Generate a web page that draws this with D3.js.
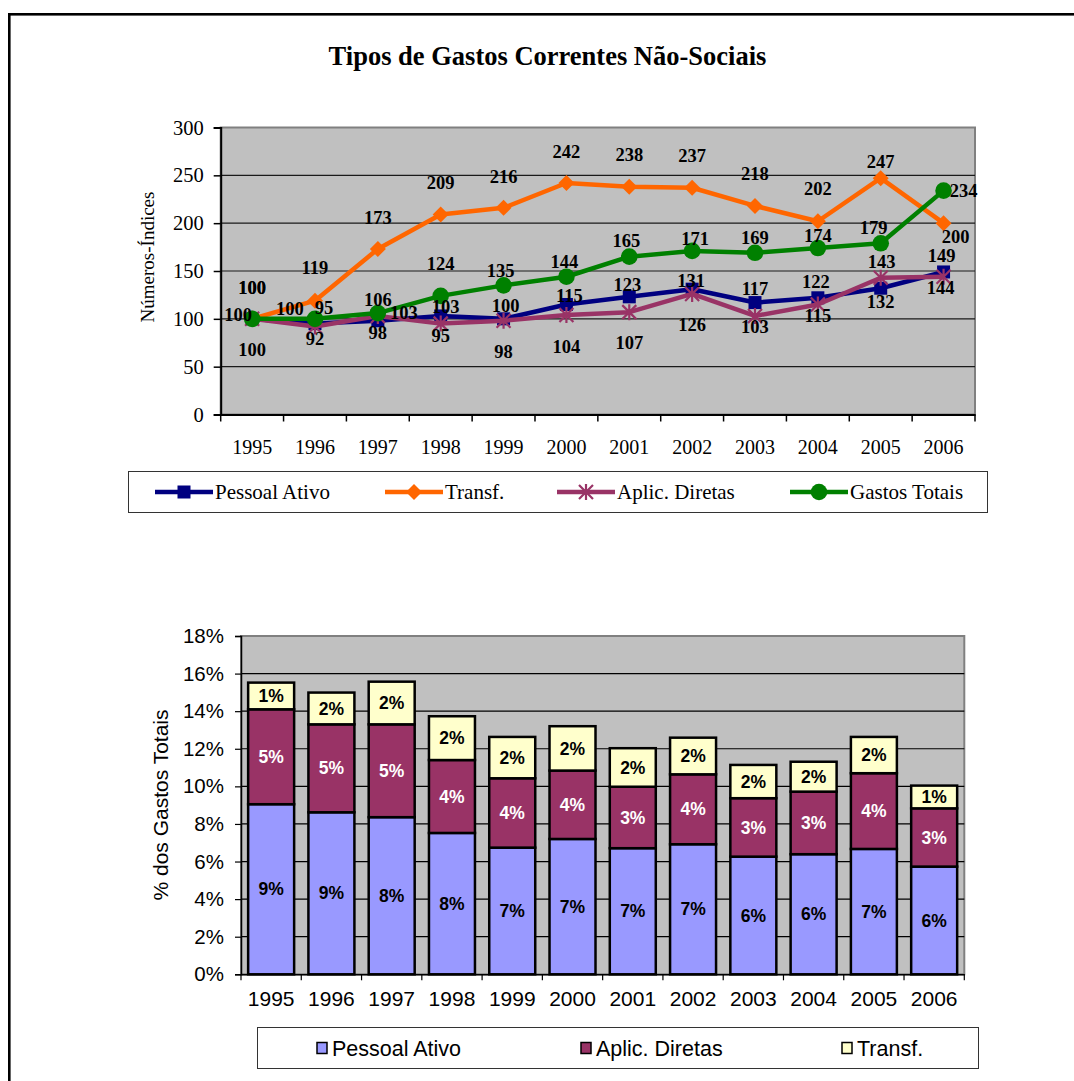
<!DOCTYPE html>
<html>
<head>
<meta charset="utf-8">
<script src="https://cdn.jsdelivr.net/npm/d3@7"></script>
<style>
  html, body { margin: 0; padding: 0; background: #fff; }
  svg { display: block; }
</style>
</head>
<body>
<svg id="chart" width="1074" height="1081"></svg>
<script>
// ---- data ----
const years = ["1995","1996","1997","1998","1999","2000","2001","2002","2003","2004","2005","2006"];

// index numbers (1995 = 100)
const pessoalIdx = [100, 95, 98, 103, 100, 115, 123, 131, 117, 122, 132, 149];
const transfIdx  = [100, 119, 173, 209, 216, 242, 238, 237, 218, 202, 247, 200];
const aplicIdx   = [100, 92, 103, 95, 98, 104, 107, 126, 103, 115, 143, 144];
const totalIdx   = [100, 100, 106, 124, 135, 144, 165, 171, 169, 174, 179, 234];
const indexTicks = [0, 50, 100, 150, 200, 250, 300];

// shares of total spending
const pessoalShare = [0.0905, 0.0862, 0.0836, 0.0752, 0.0674, 0.0720, 0.0671, 0.0692, 0.0626, 0.0639, 0.0667, 0.0573];
const aplicShare   = [0.0505, 0.0468, 0.0494, 0.0388, 0.0369, 0.0364, 0.0327, 0.0372, 0.0311, 0.0333, 0.0403, 0.0310];
const transfShare  = [0.0142, 0.0169, 0.0227, 0.0233, 0.0220, 0.0236, 0.0205, 0.0195, 0.0177, 0.0159, 0.0193, 0.0121];
const shareTicks = [0, 0.02, 0.04, 0.06, 0.08, 0.10, 0.12, 0.14, 0.16, 0.18];

// ---- label placement for the line chart (offset from each point: [dx, dy]) ----
const labelOffsets = {
  pessoal: [[0,-31],[9,-16],[0,12],[5,-9],[2,-13],[3,-9],[-2,-12],[-1,-9],[0,-14],[-2,-16],[0,13.5],[-2,-16]],
  transf:  [[0,-31],[0,-33],[0,-31],[0,-32],[0,-31],[0,-31],[0,-32],[0,-32],[0,-32],[0,-33],[0,-16.5],[12,13.5]],
  aplic:   [[0,31],[0,12],[26,-3],[0,11.5],[0,31],[0,31.7],[0,30.6],[0,31],[0,11],[0,11],[1,-16],[-3,11]],
  total:   [[-14,-4],[-25,-10],[0,-14],[0,-32],[-3,-15],[-2,-15],[-3,-16.6],[3,-12.6],[0,-15.5],[0,-13],[-7,-16],[20,0]]
};

const svg = d3.select("#chart");
const serif = "'Liberation Serif','Times New Roman',serif";
const sans = "'Liberation Sans',Arial,sans-serif";

// page frame
svg.append("rect")
  .attr("x", 9.3).attr("y", 14.3).attr("width", 1200).attr("height", 1200)
  .attr("fill", "none").attr("stroke", "#000").attr("stroke-width", 2.6);

// ================= line chart =================
const L = { left: 220.7, right: 975, top: 127.5, bottom: 414.5 };
const xL = d3.scaleBand().domain(years).range([L.left, L.right]).padding(0);
const yL = d3.scaleLinear().domain([0, 300]).range([L.bottom, L.top]);
const cx = d => xL(d) + xL.bandwidth() / 2;

svg.append("text")
  .attr("x", 547.5).attr("y", 65)
  .attr("text-anchor", "middle")
  .attr("font-family", serif).attr("font-weight", "bold").attr("font-size", 26.5)
  .text("Tipos de Gastos Correntes Não-Sociais");

const gL = svg.append("g");
gL.append("rect")
  .attr("x", L.left).attr("y", L.top)
  .attr("width", L.right - L.left).attr("height", L.bottom - L.top)
  .attr("fill", "#c0c0c0").attr("stroke", "#808080").attr("stroke-width", 2);

gL.selectAll("line.grid").data(indexTicks.filter(v => v > 0 && v < 300)).join("line")
  .attr("class", "grid")
  .attr("x1", L.left).attr("x2", L.right)
  .attr("y1", d => yL(d)).attr("y2", d => yL(d))
  .attr("stroke", "#1a1a1a").attr("stroke-width", 1.2);

// y axis
const yAxisL = gL.append("g").attr("transform", `translate(${L.left},0)`)
  .call(d3.axisLeft(yL).tickValues(indexTicks).tickSize(7).tickPadding(10));
yAxisL.select(".domain").attr("stroke", "#000").attr("stroke-width", 2);
yAxisL.selectAll(".tick line").attr("stroke", "#000").attr("stroke-width", 1.5);
yAxisL.selectAll(".tick text").attr("font-family", serif).attr("font-size", 20.5).attr("fill", "#000");

// x axis: labels at category centres, ticks at category boundaries
const xAxisL = gL.append("g").attr("transform", `translate(0,${L.bottom})`)
  .call(d3.axisBottom(xL).tickSize(0).tickPadding(25));
xAxisL.select(".domain").attr("stroke", "#000").attr("stroke-width", 2);
xAxisL.selectAll(".tick text").attr("font-family", serif).attr("font-size", 20).attr("fill", "#000");
gL.selectAll("line.xtick").data(d3.range(years.length + 1)).join("line")
  .attr("class", "xtick")
  .attr("x1", i => L.left + i * xL.step()).attr("x2", i => L.left + i * xL.step())
  .attr("y1", L.bottom).attr("y2", L.bottom + 7)
  .attr("stroke", "#000").attr("stroke-width", 1.5);

svg.append("text")
  .attr("transform", `translate(154,${(L.top + L.bottom) / 2 - 14}) rotate(-90)`)
  .attr("text-anchor", "middle")
  .attr("font-family", serif).attr("font-size", 19)
  .text("Números-Índices");

// marker shapes
function drawMarker(g, kind, color) {
  if (kind === "square") {
    g.append("rect").attr("x", -6.5).attr("y", -6.5).attr("width", 13).attr("height", 13).attr("fill", color);
  } else if (kind === "diamond") {
    g.append("path").attr("d", "M0,-8L8,0L0,8L-8,0Z").attr("fill", color);
  } else if (kind === "circle") {
    g.append("circle").attr("r", 8.3).attr("fill", color);
  } else if (kind === "star") {
    g.append("path")
      .attr("d", "M0,-8V8M-7,-7L7,7M-7,7L7,-7")
      .attr("stroke", color).attr("stroke-width", 2.2).attr("fill", "none");
  }
}

const lineSeries = [
  { key: "pessoal", name: "Pessoal Ativo", values: pessoalIdx, color: "#000080", marker: "square" },
  { key: "transf",  name: "Transf.",       values: transfIdx,  color: "#ff6600", marker: "diamond" },
  { key: "aplic",   name: "Aplic. Diretas", values: aplicIdx,  color: "#993366", marker: "star" },
  { key: "total",   name: "Gastos Totais", values: totalIdx,   color: "#008000", marker: "circle" }
];

const lineGen = d3.line().x((d, i) => cx(years[i])).y(d => yL(d));

lineSeries.forEach(s => {
  const g = gL.append("g");
  g.append("path").datum(s.values)
    .attr("d", lineGen)
    .attr("fill", "none").attr("stroke", s.color).attr("stroke-width", 4.5)
    .attr("stroke-linejoin", "round");
  g.selectAll("g.mk").data(s.values).join("g")
    .attr("class", "mk")
    .attr("transform", (d, i) => `translate(${cx(years[i])},${yL(d)})`)
    .each(function () { drawMarker(d3.select(this), s.marker, s.color); });
});

// value labels
lineSeries.forEach(s => {
  gL.append("g").selectAll("text").data(s.values).join("text")
    .attr("x", (d, i) => cx(years[i]) + labelOffsets[s.key][i][0])
    .attr("y", (d, i) => yL(d) + labelOffsets[s.key][i][1])
    .attr("dy", "0.35em")
    .attr("text-anchor", "middle")
    .attr("font-family", serif).attr("font-weight", "bold").attr("font-size", 18.5)
    .attr("fill", "#000")
    .text(d => d);
});

// legend (line chart)
const legL = svg.append("g");
legL.append("rect").attr("x", 128.5).attr("y", 471.5).attr("width", 859).attr("height", 41)
  .attr("fill", "#fff").attr("stroke", "#333").attr("stroke-width", 1);
const legLX = [155, 385, 557, 790];
lineSeries.forEach((s, i) => {
  const g = legL.append("g").attr("transform", `translate(${legLX[i]},492)`);
  g.append("line").attr("x1", 0).attr("x2", 58).attr("stroke", s.color).attr("stroke-width", 4.5);
  const m = g.append("g").attr("transform", "translate(29,0)");
  drawMarker(m, s.marker, s.color);
  g.append("text").attr("x", 60).attr("y", 0).attr("dy", "0.35em")
    .attr("font-family", serif).attr("font-size", 21).text(s.name);
});

// ================= stacked bar chart =================
const B = { left: 241, right: 964.3, top: 636, bottom: 974.3 };
const inner = 0.237;
const xB = d3.scaleBand().domain(years).range([B.left, B.right]).paddingInner(inner).paddingOuter(inner / 2);
const yB = d3.scaleLinear().domain([0, 0.18]).range([B.bottom, B.top]);

const gB = svg.append("g");
gB.append("rect")
  .attr("x", B.left).attr("y", B.top)
  .attr("width", B.right - B.left).attr("height", B.bottom - B.top)
  .attr("fill", "#c0c0c0").attr("stroke", "#808080").attr("stroke-width", 2);

gB.selectAll("line.grid").data(shareTicks.filter(v => v > 0 && v < 0.18)).join("line")
  .attr("class", "grid")
  .attr("x1", B.left).attr("x2", B.right)
  .attr("y1", d => yB(d)).attr("y2", d => yB(d))
  .attr("stroke", "#000").attr("stroke-width", 1.2);

const yAxisB = gB.append("g").attr("transform", `translate(${B.left},0)`)
  .call(d3.axisLeft(yB).tickValues(shareTicks).tickFormat(d3.format(".0%")).tickSize(6).tickPadding(11));
yAxisB.select(".domain").attr("stroke", "#000").attr("stroke-width", 1.5);
yAxisB.selectAll(".tick line").attr("stroke", "#000").attr("stroke-width", 1.2);
yAxisB.selectAll(".tick text").attr("font-family", sans).attr("font-size", 20.5).attr("fill", "#000");

const xAxisB = gB.append("g").attr("transform", `translate(0,${B.bottom})`)
  .call(d3.axisBottom(xB).tickSize(0).tickPadding(17));
xAxisB.select(".domain").attr("stroke", "#000").attr("stroke-width", 1.5);
xAxisB.selectAll(".tick text").attr("font-family", sans).attr("font-size", 21).attr("fill", "#000");
gB.selectAll("line.xtick").data(d3.range(years.length + 1)).join("line")
  .attr("class", "xtick")
  .attr("x1", i => B.left + i * xB.step()).attr("x2", i => B.left + i * xB.step())
  .attr("y1", B.bottom).attr("y2", B.bottom + 6)
  .attr("stroke", "#000").attr("stroke-width", 1.2);

svg.append("text")
  .attr("transform", `translate(${168},${805}) rotate(-90)`)
  .attr("text-anchor", "middle")
  .attr("font-family", sans).attr("font-size", 21)
  .text("% dos Gastos Totais");

const barSeries = [
  { name: "Pessoal Ativo",  values: pessoalShare, fill: "#9999ff", text: "#000" },
  { name: "Aplic. Diretas", values: aplicShare,   fill: "#993366", text: "#fff" },
  { name: "Transf.",        values: transfShare,  fill: "#ffffcc", text: "#000" }
];

const table = years.map((y, i) => {
  const row = { year: y };
  barSeries.forEach(s => { row[s.name] = s.values[i]; });
  return row;
});
const stacked = d3.stack().keys(barSeries.map(s => s.name))(table);
const pct = d3.format(".0%");

stacked.forEach((layer, li) => {
  const s = barSeries[li];
  const g = gB.append("g");
  g.selectAll("rect").data(layer).join("rect")
    .attr("x", d => xB(d.data.year))
    .attr("width", xB.bandwidth())
    .attr("y", d => yB(d[1]))
    .attr("height", d => yB(d[0]) - yB(d[1]))
    .attr("fill", s.fill).attr("stroke", "#000").attr("stroke-width", 2.5);
  g.selectAll("text").data(layer).join("text")
    .attr("x", d => xB(d.data.year) + xB.bandwidth() / 2)
    .attr("y", d => (yB(d[0]) + yB(d[1])) / 2)
    .attr("dy", "0.35em")
    .attr("text-anchor", "middle")
    .attr("font-family", sans).attr("font-weight", "bold").attr("font-size", 17.5)
    .attr("fill", s.text)
    .text(d => pct(d[1] - d[0]));
});

// legend (bar chart)
const legB = svg.append("g");
legB.append("rect").attr("x", 257.5).attr("y", 1027.5).attr("width", 721).attr("height", 41)
  .attr("fill", "#fff").attr("stroke", "#333").attr("stroke-width", 1);
const legBX = [317, 581, 842];
barSeries.forEach((s, i) => {
  const g = legB.append("g").attr("transform", `translate(${legBX[i]},1048)`);
  g.append("rect").attr("x", 0).attr("y", -5.5).attr("width", 10).attr("height", 11)
    .attr("fill", s.fill).attr("stroke", "#000").attr("stroke-width", 1.5);
  g.append("text").attr("x", 15).attr("y", 0).attr("dy", "0.35em")
    .attr("font-family", sans).attr("font-size", 21.5).text(s.name);
});
</script>
</body>
</html>
